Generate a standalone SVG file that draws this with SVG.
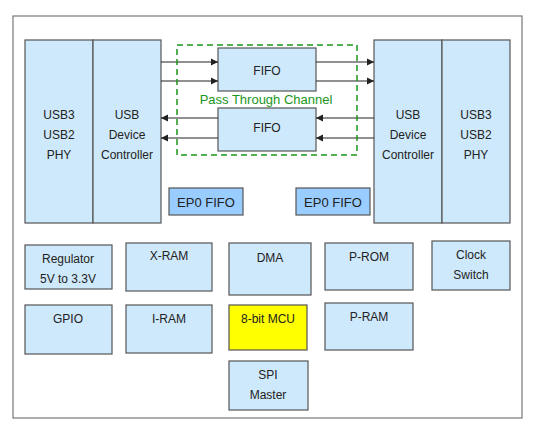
<svg xmlns="http://www.w3.org/2000/svg" width="554" height="429" viewBox="0 0 554 429">
<defs>
<style>
.b{fill:#cfe9fc;stroke:#555;stroke-width:1.2}
.e{fill:#99ccff;stroke:#555;stroke-width:1.2}
.y{fill:#ffff00;stroke:#555;stroke-width:1.2}
text{font-family:"Liberation Sans",Arial,sans-serif;font-size:12px;fill:#222;text-anchor:middle}
.c line{stroke:#222;stroke-width:1.2}
</style>
<marker id="ah" markerWidth="8" markerHeight="8" refX="7" refY="4" orient="auto" markerUnits="userSpaceOnUse">
<path d="M0,0.5 L7,4 L0,7.5 Z" fill="#222"/>
</marker>
</defs>
<rect x="0" y="0" width="554" height="429" fill="#fff"/>
<rect id="outer" x="13" y="16" width="509" height="402" fill="#fff" stroke="#777" stroke-width="1.2"/>

<g id="phy-left"><rect class="b" x="25" y="40" width="68" height="183"/><text x="59" y="119">USB3</text><text x="59" y="139">USB2</text><text x="59" y="159">PHY</text></g>
<g id="udc-left"><rect class="b" x="93" y="40" width="68" height="183"/><text x="127" y="119">USB</text><text x="127" y="139">Device</text><text x="127" y="159">Controller</text></g>
<g id="udc-right"><rect class="b" x="374" y="40" width="68" height="183"/><text x="408" y="119">USB</text><text x="408" y="139">Device</text><text x="408" y="159">Controller</text></g>
<g id="phy-right"><rect class="b" x="442" y="40" width="68" height="183"/><text x="476" y="119">USB3</text><text x="476" y="139">USB2</text><text x="476" y="159">PHY</text></g>

<g id="fifo-top"><rect class="b" x="218" y="48" width="98" height="43"/><text x="267" y="75">FIFO</text></g>
<g id="fifo-bottom"><rect class="b" x="218" y="108" width="98" height="43"/><text x="267" y="132">FIFO</text></g>

<g class="c" id="connectors">
<line x1="161" y1="62" x2="218" y2="62" marker-end="url(#ah)"/>
<line x1="161" y1="81" x2="218" y2="81" marker-end="url(#ah)"/>
<line x1="316" y1="62" x2="374" y2="62" marker-end="url(#ah)"/>
<line x1="316" y1="81" x2="374" y2="81" marker-end="url(#ah)"/>
<line x1="374" y1="118" x2="316" y2="118" marker-end="url(#ah)"/>
<line x1="374" y1="138" x2="316" y2="138" marker-end="url(#ah)"/>
<line x1="218" y1="118" x2="161" y2="118" marker-end="url(#ah)"/>
<line x1="218" y1="138" x2="161" y2="138" marker-end="url(#ah)"/>
</g>

<g id="pass-through">
<rect x="177" y="45" width="180" height="110" fill="none" stroke="#1a961a" stroke-width="1.5" stroke-dasharray="6,4"/>
<text x="266" y="104" style="fill:#1a961a;font-size:13px">Pass Through Channel</text>
</g>

<g id="ep0-left"><rect class="e" x="169" y="188" width="74" height="27"/><text x="206" y="207" style="font-size:13px">EP0 FIFO</text></g>
<g id="ep0-right"><rect class="e" x="296" y="188" width="74" height="27"/><text x="333" y="207" style="font-size:13px">EP0 FIFO</text></g>

<g id="regulator"><rect class="b" x="25" y="245" width="87" height="44"/><text x="68" y="263">Regulator</text><text x="68" y="283">5V to 3.3V</text></g>
<g id="xram"><rect class="b" x="126" y="243" width="86" height="48"/><text x="169" y="260">X-RAM</text></g>
<g id="dma"><rect class="b" x="229" y="243" width="82" height="52"/><text x="270" y="262">DMA</text></g>
<g id="prom"><rect class="b" x="325" y="243" width="88" height="47"/><text x="369" y="261">P-ROM</text></g>
<g id="clock"><rect class="b" x="432" y="241" width="78" height="49"/><text x="471" y="259">Clock</text><text x="471" y="279">Switch</text></g>
<g id="gpio"><rect class="b" x="25" y="305" width="87" height="49"/><text x="68" y="323">GPIO</text></g>
<g id="iram"><rect class="b" x="126" y="305" width="86" height="48"/><text x="169" y="323">I-RAM</text></g>
<g id="mcu"><rect class="y" x="229" y="305" width="78" height="45"/><text x="268" y="323">8-bit MCU</text></g>
<g id="pram"><rect class="b" x="325" y="303" width="88" height="47"/><text x="369" y="321">P-RAM</text></g>
<g id="spi"><rect class="b" x="229" y="361" width="79" height="49"/><text x="268" y="379">SPI</text><text x="268" y="399">Master</text></g>
</svg>
